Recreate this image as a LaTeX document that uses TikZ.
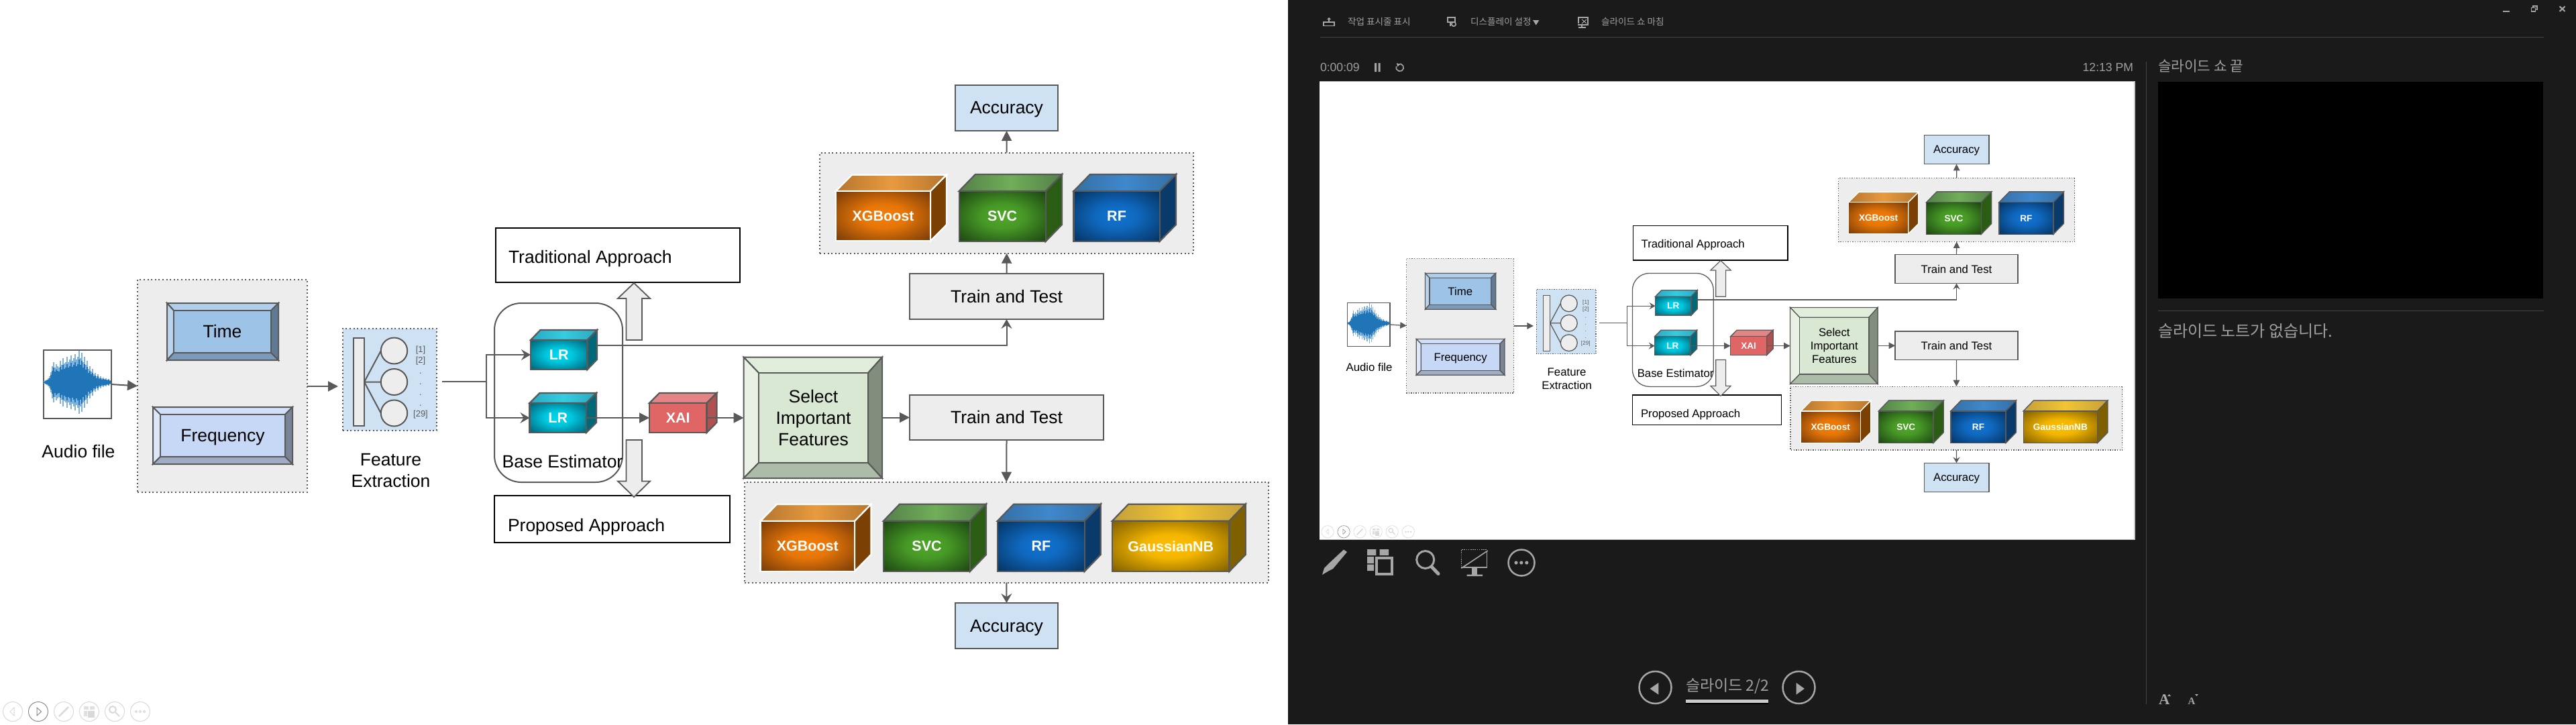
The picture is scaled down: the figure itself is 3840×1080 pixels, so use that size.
\documentclass[tikz,border=0pt]{standalone}
\usepackage{fontspec}
\setmainfont{Liberation Sans}
\newfontfamily\krf{Noto Sans CJK KR}
\newfontfamily\serifb{Liberation Serif}
\usetikzlibrary{arrows.meta,shapes.geometric}
\definecolor{lineg}{HTML}{595959}
\definecolor{pgrey}{HTML}{EDEDED}
\definecolor{pblue}{HTML}{CFE2F3}
\definecolor{darkbg}{HTML}{1A1A1A}
\definecolor{uig}{HTML}{A6A6A6}
\definecolor{uit}{HTML}{A0A0A0}
\definecolor{uil}{HTML}{444444}
\definecolor{wavedark}{HTML}{1F75B5}
\definecolor{wavelight}{HTML}{7FB2DC}
% bevels
\definecolor{tmF}{HTML}{9DC3E6}\definecolor{tmT}{HTML}{B1CFEC}\definecolor{tmL}{HTML}{BAD4EE}\definecolor{tmR}{HTML}{5F7A94}\definecolor{tmB}{HTML}{7D9ABA}
\definecolor{frF}{HTML}{C6D8F6}\definecolor{frT}{HTML}{D1E0F8}\definecolor{frL}{HTML}{DDE7F9}\definecolor{frR}{HTML}{7A8498}\definecolor{frB}{HTML}{A0ACC5}
\definecolor{seF}{HTML}{D9E8D3}\definecolor{seT}{HTML}{E0EDDA}\definecolor{seL}{HTML}{E8F1E4}\definecolor{seR}{HTML}{828D7E}\definecolor{seB}{HTML}{ADBCA8}
% cubes
\definecolor{XGBLn}{HTML}{FFFFFF}\definecolor{XGBTc}{HTML}{E89A3F}\definecolor{XGBTe}{HTML}{B5762F}\definecolor{XGBS}{HTML}{7A4004}
\definecolor{SVCLn}{HTML}{595959}\definecolor{SVCTc}{HTML}{70AE58}\definecolor{SVCTe}{HTML}{54804A}\definecolor{SVCS}{HTML}{2A5C14}
\definecolor{RFLn}{HTML}{595959}\definecolor{RFTc}{HTML}{3F88CC}\definecolor{RFTe}{HTML}{356FA5}\definecolor{RFS}{HTML}{0A3A6A}
\definecolor{GNBLn}{HTML}{595959}\definecolor{GNBTc}{HTML}{F2C535}\definecolor{GNBTe}{HTML}{C4A03A}\definecolor{GNBS}{HTML}{7F6000}
\definecolor{LRLn}{HTML}{595959}\definecolor{LRTc}{HTML}{35CCE0}\definecolor{LRTe}{HTML}{2CA8C0}\definecolor{LRS}{HTML}{006878}
\definecolor{XAILn}{HTML}{595959}\definecolor{XAITc}{HTML}{E48585}\definecolor{XAITe}{HTML}{E48585}\definecolor{XAIS}{HTML}{B05050}
\pgfdeclareradialshading{shXGB}{\pgfpoint{0bp}{0bp}}{rgb(0bp)=(.96,.50,.03); rgb(12bp)=(.90,.46,.03); rgb(35bp)=(.46,.23,.03); rgb(50bp)=(.46,.23,.03)}
\pgfdeclareradialshading{shSVC}{\pgfpoint{0bp}{0bp}}{rgb(0bp)=(.31,.66,.16); rgb(12bp)=(.28,.60,.15); rgb(35bp)=(.11,.27,.07); rgb(50bp)=(.11,.27,.07)}
\pgfdeclareradialshading{shRF}{\pgfpoint{0bp}{0bp}}{rgb(0bp)=(.07,.45,.82); rgb(12bp)=(.06,.41,.75); rgb(35bp)=(.02,.20,.38); rgb(50bp)=(.02,.20,.38)}
\pgfdeclareradialshading{shGNB}{\pgfpoint{0bp}{0bp}}{rgb(0bp)=(1,.75,0); rgb(12bp)=(.95,.71,.0); rgb(35bp)=(.50,.37,.0); rgb(50bp)=(.50,.37,.0)}
\pgfdeclareradialshading{shLR}{\pgfpoint{0bp}{0bp}}{rgb(0bp)=(0,.85,.93); rgb(12bp)=(0,.78,.87); rgb(35bp)=(0,.38,.46); rgb(50bp)=(0,.38,.46)}
\pgfdeclareradialshading{shXAI}{\pgfpoint{0bp}{0bp}}{rgb(0bp)=(.878,.4,.4); rgb(50bp)=(.878,.4,.4)}
\tikzset{
  ln/.style={line width=\slw*2pt,draw=lineg},
  lnk/.style={line width=\slw*2.6pt,draw=black},
  arr/.style={ln,-{Triangle[length=0pt 7.5,width=0pt 7.5]}},
  oarr/.style={ln,-{Stealth[length=0pt 7,width=0pt 8,inset=0pt 2.5]}},
  dotpanel/.style={line width=\slw*2pt,draw=lineg,dash pattern=on \dashon off \dashoff},
  lbl/.style={font=\fontsize{26.5}{32}\selectfont,text=black,align=center},
  lbd/.style={lbl,text depth=0pt},
  clbl/.style={font=\bfseries\fontsize{21.5}{26}\selectfont,text=white},
  nlbl/.style={font=\fontsize{13}{15}\selectfont,text=lineg},
  ctl/.style={line width=\slw*1pt,draw=#1},
  ctl/.default={black!15},
  uitxt/.style={font=\krf\fontsize{13.6}{16}\selectfont,text=uit,anchor=west},
  latin/.style={font=\fontsize{17.6}{20}\selectfont,text=uit},
  hairline/.style={line width=1.5pt,draw=uil},
  wave/.style={line width=\slw*2pt,draw=#1},
}
\newcommand{\nbox}[7][]{%
  \pgfmathsetmacro\mybw{#5-#3}\pgfmathsetmacro\mybh{#6-#4}%
  \node[rectangle,minimum width=\mybw pt,minimum height=\mybh pt,#1] (#2) at ({(#3+#5)/2},{(#4+#6)/2}) {#7};}
\newcommand{\bevel}[9]{%
  \path[ln,fill=#1T] (#2,#3)--(#4,#3)--(#8,#7)--(#6,#7)--cycle;
  \path[ln,fill=#1L] (#2,#3)--(#6,#7)--(#6,#9)--(#2,#5)--cycle;
  \path[ln,fill=#1R] (#4,#3)--(#4,#5)--(#8,#9)--(#8,#7)--cycle;
  \path[ln,fill=#1B] (#2,#5)--(#4,#5)--(#8,#9)--(#6,#9)--cycle;}
\newcommand{\cube}[9]{%
  \pgfmathsetmacro\cdx{#7-#5}\pgfmathsetmacro\ctlx{#3+\cdx}%
  \path[line width=\slw*2.2pt,draw=#1Ln,left color=#1Te,right color=#1Te,middle color=#1Tc]
     (#3,#4)--(\ctlx,#8)--(#7,#8)--(#5,#4)--cycle;
  \path[line width=\slw*2.2pt,draw=#1Ln,fill=#1S]
     (#5,#4)--(#7,#8)--(#7,{#6-(#4-#8)})--(#5,#6)--cycle;
  \nbox[line width=\slw*2.2pt,draw=#1Ln,shade,shading=sh#1,clbl]{#2}{#3}{#4}{#5}{#6}{#9}}
% one slide, in pixels of the big slide
\newcommand{\slidebody}{%
  % audio
  \nbox[ln,fill=white]{audio}{65}{522}{166}{624}{}
  \foreach \x/\h in {66/2,68/3,70/4,72/6,74/9,76/15,78/24,80/30,82/22,84/27,86/24,88/22,90/32,92/26,94/36,96/28,98/30,100/38,102/30,104/34,106/40,108/32,110/36,112/42,114/34,116/38,118/47,120/36,122/44,124/30,126/38,128/26,130/32,132/20,134/24,136/16,138/20,140/12,142/14,144/9,146/12,148/7,150/9,152/6,154/7,156/5,158/6,160/4,162/5,164/3}{
    \draw[wave=wavelight] (\x,570+\h) -- (\x,570-\h);
    \draw[wave=wavedark] (\x,570+\h*.72) -- (\x,570-\h*.72);
  }
  \node[lbl] (audiolbl) at (117,673) {Audio file};
  % domain panel
  \nbox[dotpanel,fill=pgrey]{dom}{205}{417}{458}{734}{}
  \bevel{tm}{249}{452}{415}{537}{259}{463}{404}{526}
  \nbox[ln,fill=tmF,lbl]{time}{259}{463}{404}{526}{Time}
  \bevel{fr}{228}{607}{436}{692}{239}{618}{425}{681}
  \nbox[ln,fill=frF,lbd]{freq}{239}{618}{425}{681}{Frequency}
  \draw[arr] (audio.east) -- (dom.west);
  % feature extraction
  \nbox[dotpanel,fill=pblue]{fpanel}{511}{490}{651}{642}{}
  \nbox[ln,fill=pgrey]{frect}{527}{504}{543}{635}{}
  \node[ellipse,ln,fill=pgrey,minimum width=39.4pt,minimum height=39pt] (c1) at (587.5,523) {};
  \node[ellipse,ln,fill=pgrey,minimum width=39.4pt,minimum height=39pt] (c2) at (587.5,569.5) {};
  \node[ellipse,ln,fill=pgrey,minimum width=39.4pt,minimum height=39pt] (c3) at (587.5,616) {};
  \draw[ln] (frect.east) -- (c1.west) (frect.east) -- (c2.west) (frect.east) -- (c3.west);
  \node[nlbl] (n1) at (627,522) {[1]};
  \node[nlbl] (n2) at (627,538) {[2]};
  \node[nlbl] (d1) at (627,557) {.};
  \node[nlbl] (d2) at (627,573) {.};
  \node[nlbl] (d3) at (627,589) {.};
  \node[nlbl] (d4) at (627,605) {.};
  \node[nlbl] (n29) at (627,618) {[29]};
  \node[lbl] (felbl) at (582.5,701) {Feature\\Extraction};
  \coordinate (fin) at (504,576);
  \draw[arr] (dom.east |- fin) -- (fin);
  % approaches
  \nbox[lnk,fill=white]{trad}{739}{340}{1103}{421}{}
  \node[lbd,anchor=west] (tradlbl) at (758,383) {Traditional Approach};
  \nbox[lnk,fill=white]{prop}{737}{739}{1088}{809}{}
  \node[lbd,anchor=west] (proplbl) at (757,783) {Proposed Approach};
  % base estimator
  \nbox[ln,rounded corners=\slw*40pt]{base}{737}{452}{928}{719}{}
  \node[lbl] (baselbl) at (838.5,688) {Base Estimator};
  \path[ln,line width=\slw*1.8pt,fill=pgrey] (945,422)--(969,445)--(957,445)--(957,507)--(933.5,507)--(933.5,445)--(921,445)--cycle;
  \path[ln,line width=\slw*1.8pt,fill=pgrey] (945,741)--(969,717.5)--(957,717.5)--(957,656)--(933.5,656)--(933.5,717.5)--(921,717.5)--cycle;
  \cube{LR}{lra}{791}{507}{875.5}{551}{890}{492}{LR}
  \cube{LR}{lrb}{789.5}{601}{874}{645}{889}{586}{LR}
  \cube{XAI}{xai}{968}{601}{1053.5}{645}{1068.4}{586}{XAI}
  \coordinate (fout) at (659,569);
  \coordinate (junc) at (724.5,569);
  \coordinate (lrout) at (890,514.5);
  \draw[ln] (fout) -- (junc);
  \draw[oarr] (junc) |- (lra.west);
  \draw[oarr] (junc) |- (lrb.west);
  % select
  \nbox[ln]{select}{1108.6}{532.6}{1315}{713}{}
  \bevel{se}{1108.6}{532.6}{1315}{713}{1131}{556}{1294}{690}
  \nbox[ln,fill=seF,lbl]{selin}{1131}{556}{1294}{690}{Select\\Important\\Features}
  \draw[arr] (lrb.east) -- (xai.west);
  \draw[arr] (xai.east) -- (select.west |- xai.east);
  % train and test, upper path
  \nbox[ln,fill=pgrey,lbl]{tta}{1356}{408}{1645}{476}{Train and Test}
  \draw[oarr] (lrout) -| (tta.south);
  \nbox[dotpanel,fill=pgrey]{pa}{1222.4}{227.7}{1779}{377.7}{}
  \cube{XGB}{xa}{1246}{285}{1387}{359.3}{1411}{260.7}{XGBoost}
  \cube{SVC}{sa}{1429.6}{285}{1558.7}{360}{1583}{260}{SVC}
  \cube{RF}{ra}{1600.5}{285}{1728.6}{360}{1753}{260}{RF}
  \nbox[ln,fill=pblue,lbd]{acca}{1424}{126.7}{1577}{195}{Accuracy}
  \draw[arr] (tta.north) -- (pa.south);
  \draw[arr] (pa.north) -- (acca.south);
  % lower path
  \nbox[ln,fill=pgrey,lbl]{ttb}{1356}{588.7}{1645}{656.3}{Train and Test}
  \draw[arr] (select.east |- ttb.west) -- (ttb.west);
  \nbox[dotpanel,fill=pgrey]{pb}{1109.5}{718.7}{1891}{868.7}{}
  \cube{XGB}{xb}{1133.5}{777}{1274}{851.7}{1298.5}{752}{XGBoost}
  \cube{SVC}{sb}{1317}{776.7}{1446}{852}{1470}{751.7}{SVC}
  \cube{RF}{rb}{1487}{776.7}{1616.7}{852}{1640.8}{751.7}{RF}
  \cube{GNB}{gb}{1658}{776.7}{1832.5}{852}{1856.7}{751.7}{GaussianNB}
  \nbox[ln,fill=pblue,lbd]{accb}{1424}{899}{1577}{967}{Accuracy}
  \draw[arr] (ttb.south) -- (pb.north);
  \draw[oarr] (pb.south) -- (accb.north);
  % slide-show controls
  \foreach \cx in {19,95,133,171,209}{\draw[ctl] (\cx,1061) circle[radius=14.5];}
  \draw[ctl=black!45] (57,1061) circle[radius=14.5];
  \draw[ctl] (21,1055)--(15,1061)--(21,1067)--cycle;
  \draw[ctl=black!45] (55,1055)--(61.5,1061)--(55,1067)--cycle;
  \draw[line width=\slw*2.5pt,draw=black!15] (88,1068)--(102,1054);
  \fill[black!12] (125,1053) rectangle (132,1058) (134,1053) rectangle (141,1058) (125,1060) rectangle (130,1068);
  \fill[black!15] (131,1060) rectangle (141,1070);
  \draw[line width=\slw*2pt,draw=black!15] (168,1058) circle[radius=5] (172,1062)--(178,1068);
  \foreach \cx in {203,209,215}{\draw[ctl] (\cx,1061) circle[radius=1.6];}
}
\begin{document}
\begin{tikzpicture}[x=1pt,y=-1pt,every node/.append style={transform shape,inner sep=0pt,outer sep=0pt}]
\useasboundingbox (0,0) rectangle (3840,1080);
\fill[white] (0,0) rectangle (1920,1080);
\fill[darkbg] (1920,0) rectangle (3840,1080);
% big slide
\begin{scope}[name prefix=a-]
  \def\slw{1}\def\dashon{2pt}\def\dashoff{3.6pt}
  \slidebody
\end{scope}
% presenter view: current slide
\fill[white] (1967,121.4) rectangle (3182,804.4);
\draw[line width=1.5pt,draw=black!22] (1967,804.4) -- (3182,804.4) -- (3182,121.4) -- (1967,121.4);
\begin{scope}[shift={(1967,121.4)},scale=.6328,name prefix=m-]
  \def\slw{.6328}\def\dashon{1.3pt}\def\dashoff{2.3pt}
  \slidebody
\end{scope}
\def\slw{1}
% top bar
\draw[hairline] (1968,55.4) -- (3792,55.4);
\draw[uig,line width=1.2pt] (1973,33) rectangle (1989,38.6);
\draw[uig,line width=1.2pt] (1981,32) -- (1981,28);
\fill[uig] (1978,29)--(1981,26)--(1984,29)--cycle;
\node[uitxt] (tb1) at (2009,32) {작업 표시줄 표시};
\draw[uig,line width=1.2pt] (2158,26) rectangle (2169,33);
\draw[uig,line width=1.2pt] (2162,33) -- (2162,39);
\draw[uig,line width=1.6pt] (2167,36) circle[radius=3.2];
\node[uitxt] (tb2) at (2192,32) {디스플레이 설정};
\fill[uig] (2285,30)--(2294.4,30)--(2289.7,37.5)--cycle;
\draw[uig,line width=1.2pt] (2352,26) -- (2367,26) -- (2367,37) -- (2352,37);
\draw[uig,line width=1.2pt] (2353,26) -- (2353,35);
\draw[uig,line width=1.2pt] (2358,37) -- (2358,41) (2353,41) -- (2364,41);
\draw[uig,line width=1pt] (2358,29) -- (2365,35) (2365,29) -- (2358,35);
\node[uitxt] (tb3) at (2387,32) {슬라이드 쇼 마침};
% window controls
\fill[uig] (3731,15.5) rectangle (3741,17.5);
\draw[uig,line width=1.2pt] (3773.5,11.5) rectangle (3779.5,17);
\draw[uig,line width=1.2pt] (3776,11.5) -- (3776,9) -- (3782,9) -- (3782,14.5) -- (3779.5,14.5);
\draw[uig,line width=2pt] (3815.5,9.5) -- (3823.5,17) (3823.5,9.5) -- (3815.5,17);
% timer row
\node[latin,anchor=west] (timer) at (1968,100.7) {0:00:09};
\fill[uig] (2049,94) rectangle (2052,107) (2054.5,94) rectangle (2057.5,107);
\draw[uig,line width=1.6pt] (2084,96) arc[start angle=120,end angle=-200,radius=5.5pt];
\fill[uig] (2082,94)--(2087,96)--(2083,99.5)--cycle;
\node[latin,anchor=east] (clock) at (3180,100.5) {12:13 PM};
\draw[hairline] (3199.6,92) -- (3199.6,1050);
% right column
\node[uitxt,font=\krf\fontsize{21.3}{24}\selectfont] (nexttitle) at (3217,99) {슬라이드 쇼 끝};
\fill[black] (3217,122) rectangle (3791,445);
\draw[hairline] (3217,463.5) -- (3792,463.5);
\node[uitxt,font=\krf\fontsize{24}{28}\selectfont] (notes) at (3217,494) {슬라이드 노트가 없습니다.};
\node[font=\serifb\bfseries\fontsize{22.5}{24}\selectfont,text=uig,anchor=base west] (abig) at (3218,1050) {A};
\fill[uig] (3231,1038)--(3233.5,1035)--(3236,1038)--cycle;
\node[font=\serifb\bfseries\fontsize{15}{18}\selectfont,text=uig,anchor=base west] (asmall) at (3261.5,1050) {A};
\fill[uig] (3272,1035)--(3277,1035)--(3274.5,1038)--cycle;
% toolbar under the slide
\fill[uig] (1971,857)--(1974,847)--(1980,841)--(2003,819.5)--(2008,823)--(1987,848)--(1981,851)--cycle;
\fill[uig] (2038,819) rectangle (2051.4,828) (2056.5,819) rectangle (2070,828) (2038,830) rectangle (2048,840) (2038,841.7) rectangle (2048,851);
\draw[uig,line width=4pt] (2051.5,832) rectangle (2075,855.7);
\draw[uig,line width=3pt] (2124.7,834.5) circle[radius=13];
\draw[uig,line width=5pt,line cap=round] (2134,845) -- (2144,855.5);
\draw[uig,line width=1.6pt,dash pattern=on 1.6pt off 1.6pt] (2178.3,847.3) -- (2178.3,819.3) -- (2216.6,819.3);
\draw[uig,line width=1.6pt] (2216.6,823.3) -- (2216.6,846) -- (2178.3,846);
\draw[uig,line width=1.6pt] (2178.3,847.3) -- (2217.8,821);
\fill[uig] (2194.2,846) rectangle (2201.9,856.7) (2186.6,856.7) rectangle (2210.2,859);
\draw[uig,line width=2.5pt] (2268,839) circle[radius=19.5];
\fill[uig] (2260,839) circle[radius=2.6] (2267.8,839) circle[radius=2.6] (2275.8,839) circle[radius=2.6];
% slide navigation
\draw[uig,line width=2.5pt] (2467.5,1025) circle[radius=24];
\fill[uig] (2459.5,1026.8)--(2472.3,1018)--(2472.3,1035.7)--cycle;
\node[uitxt,font=\krf\fontsize{23}{26}\selectfont] (slideno) at (2513,1023) {슬라이드 2/2};
\fill[black] (2513,1041.7) rectangle (2636,1049.7);
\fill[black!20] (2513,1043) rectangle (2636,1048);
\draw[uig,line width=2.5pt] (2681.5,1025) circle[radius=24];
\fill[uig] (2689.8,1026.8)--(2677.6,1018)--(2677.6,1035.7)--cycle;
\end{tikzpicture}
\end{document}
